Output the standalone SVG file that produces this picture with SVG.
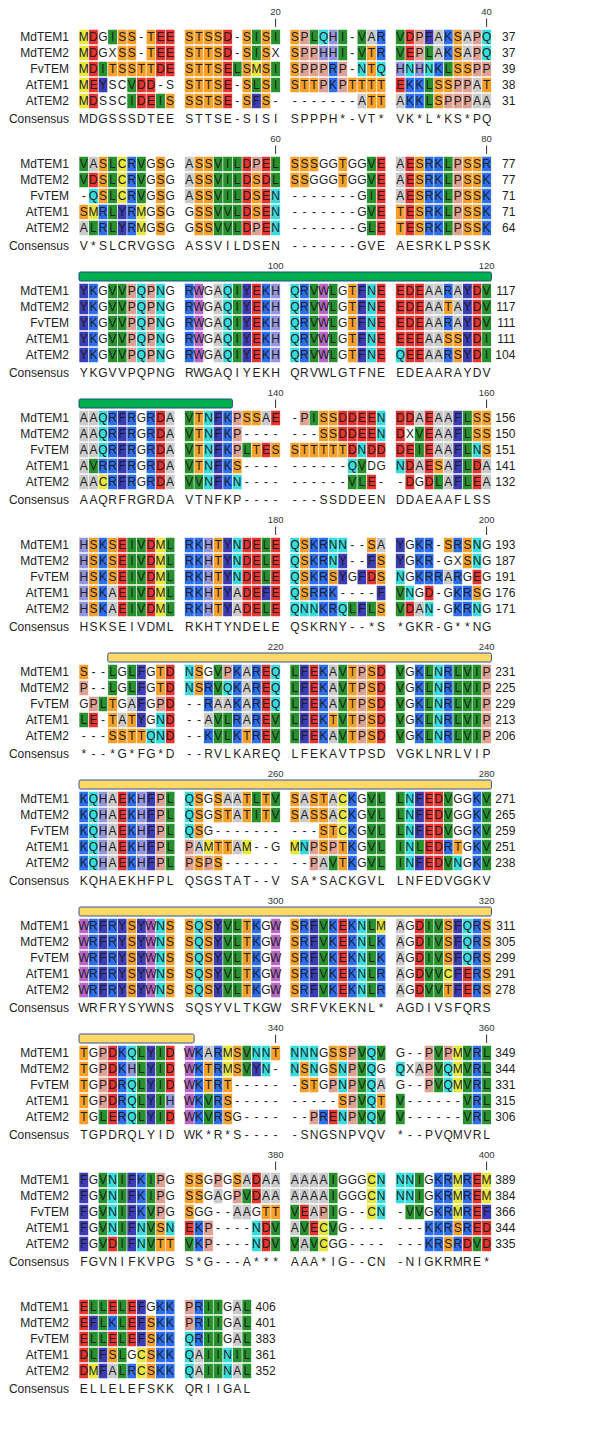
<svg xmlns="http://www.w3.org/2000/svg" xmlns:xlink="http://www.w3.org/1999/xlink" width="602" height="1437" viewBox="0 0 602 1437">
<style>
text{font-family:"Liberation Sans",Arial,sans-serif;fill:#1e1e1e}
.nm{font-size:12px;text-anchor:end}
.sq{font-size:12px;text-anchor:middle}
.nr{font-size:12px;text-anchor:end}
.pl{font-size:9.5px;text-anchor:middle;fill:#333}
.tk{stroke:#333;stroke-width:1;fill:none}
.bg path{fill:none;stroke-width:.9125}
.sep{fill:none;stroke:#fff;stroke-width:.07}
.gbar{fill:#00b050;stroke:#1f4e79;stroke-width:1}
.ybar{fill:#ffd966;stroke:#2f5597;stroke-width:1}
.bg .cr{stroke:#e8332e}.bg .cy{stroke:#e6e63c}.bg .cb{stroke:#2e6ff2}.bg .co{stroke:#f7a029}.bg .cf{stroke:#3c3cb4}.bg .cc{stroke:#36dcdc}.bg .cg{stroke:#27922d}.bg .ca{stroke:#cbcbcb}.bg .cw{stroke:#b866c6}.bg .ch{stroke:#9494dc}.bg .cp{stroke:#e0a092}
</style>
<defs>
<path id="sep" class="sep" d="M0-.5v5M1-.5v5M2-.5v5M3-.5v5M4-.5v5M5-.5v5M6-.5v5M7-.5v5M8-.5v5M9-.5v5M10-.5v5M11-.5v5M12-.5v5M13-.5v5M14-.5v5M15-.5v5M16-.5v5M17-.5v5M18-.5v5M19-.5v5M20-.5v5M21-.5v5M22-.5v5M23-.5v5M24-.5v5M25-.5v5M26-.5v5M27-.5v5M28-.5v5M29-.5v5M30-.5v5M31-.5v5M32-.5v5M33-.5v5M34-.5v5M35-.5v5M36-.5v5M37-.5v5M38-.5v5M39-.5v5M40-.5v5M41-.5v5M42-.5v5M43-.5v5"/>
</defs>
<rect width="602" height="1437" fill="#fff"/>

<g id="block1">
<g class="bg" transform="translate(79 37) scale(9.59 16)">
<path class="cy" d="M0 0h1M0 1h1M0 2h1M18 2h1M0 3h1M0 4h1"/>
<path class="cr" d="M1 0h1M8 0h2M15 0h1M34 0h1M1 1h1M8 1h2M15 1h1M34 1h1M1 2h1M8 2h2M15 2h1M1 3h1M6 3h2M15 3h1M33 3h1M1 4h1M6 4h2M15 4h1"/>
<path class="cg" d="M3 0h1M18 0h1M20 0h1M24 0h1M27 0h1M29 0h1M33 0h1M18 1h1M27 1h1M29 1h1M33 1h1M36 1h1M2 2h1M16 2h1M20 2h1M38 2h1M5 3h1M18 3h1M20 3h1M36 3h1M5 4h1M8 4h1M36 4h1"/>
<path class="co" d="M4 0h2M7 0h1M11 0h4M17 0h1M19 0h1M22 0h1M39 0h1M4 1h2M7 1h1M11 1h4M17 1h1M19 1h1M22 1h1M30 1h1M39 1h1M3 2h5M11 2h4M17 2h1M19 2h1M22 2h1M30 2h1M39 2h2M11 3h4M17 3h1M19 3h1M22 3h3M28 3h4M37 3h2M42 3h1M9 4h1M11 4h4M17 4h1M19 4h1M30 4h2M37 4h1"/>
<path class="cp" d="M23 0h1M35 0h1M41 0h1M23 1h2M35 1h1M41 1h1M23 2h3M27 2h1M41 2h2M25 3h1M27 3h1M39 3h2M38 4h3"/>
<path class="cc" d="M25 0h1M42 0h1M42 1h1M29 2h1M31 2h1M34 2h1M36 2h1"/>
<path class="ch" d="M26 0h1M25 1h2M33 2h1M35 2h1"/>
<path class="ca" d="M30 0h1M37 0h1M40 0h1M37 1h1M40 1h1M41 3h1M29 4h1M33 4h1M41 4h2"/>
<path class="cb" d="M31 0h1M38 0h1M31 1h1M38 1h1M26 2h1M37 2h1M26 3h1M34 3h2M34 4h2"/>
<path class="cf" d="M36 0h1M2 3h1M18 4h1"/>
<use href="#sep"/>
</g>
<text class="pl" x="275.6" y="15">20</text><text class="pl" x="486.6" y="15">40</text>
<path class="tk" d="M275.6 18.5v8.5M486.6 18.5v8.5"/>
<text class="nm" x="69" y="41.3">MdTEM1</text><text class="nm" x="69" y="57.3">MdTEM2</text><text class="nm" x="69" y="73.3">FvTEM</text><text class="nm" x="69" y="89.3">AtTEM1</text><text class="nm" x="69" y="105.3">AtTEM2</text><text class="nm" x="69" y="122.8">Consensus</text>
<text class="sq" x="83.8 93.4 103 112.6 122.2 131.8 141.3 150.9 160.5 170.1 179.7 189.3 198.9 208.5 218.1 227.7 237.2 246.8 256.4 266 275.6 285.2 294.8 304.4 314 323.6 333.1 342.7 352.3 361.9 371.5 381.1 390.7 400.3 409.9 419.5 429 438.6 448.2 457.8 467.4 477 486.6" y="41.3">MDGISS-TEE STSSD-SISI SPLQHI-VAR VDPFAKSAPQ</text>
<text class="sq" x="83.8 93.4 103 112.6 122.2 131.8 141.3 150.9 160.5 170.1 179.7 189.3 198.9 208.5 218.1 227.7 237.2 246.8 256.4 266 275.6 285.2 294.8 304.4 314 323.6 333.1 342.7 352.3 361.9 371.5 381.1 390.7 400.3 409.9 419.5 429 438.6 448.2 457.8 467.4 477 486.6" y="57.3">MDGXSS-TEE STTSD-SISX SPPHHI-VTR VEPLAKSAPQ</text>
<text class="sq" x="83.8 93.4 103 112.6 122.2 131.8 141.3 150.9 160.5 170.1 179.7 189.3 198.9 208.5 218.1 227.7 237.2 246.8 256.4 266 275.6 285.2 294.8 304.4 314 323.6 333.1 342.7 352.3 361.9 371.5 381.1 390.7 400.3 409.9 419.5 429 438.6 448.2 457.8 467.4 477 486.6" y="73.3">MDITSSTTDE STTSELSMSI SPPPRP-NTQ HNHNKLSSPP</text>
<text class="sq" x="83.8 93.4 103 112.6 122.2 131.8 141.3 150.9 160.5 170.1 179.7 189.3 198.9 208.5 218.1 227.7 237.2 246.8 256.4 266 275.6 285.2 294.8 304.4 314 323.6 333.1 342.7 352.3 361.9 371.5 381.1 390.7 400.3 409.9 419.5 429 438.6 448.2 457.8 467.4 477 486.6" y="89.3">MEYSCVDD-S STTSE-SLSI STTPKPTTTT EKKLSSPPAT</text>
<text class="sq" x="83.8 93.4 103 112.6 122.2 131.8 141.3 150.9 160.5 170.1 179.7 189.3 198.9 208.5 218.1 227.7 237.2 246.8 256.4 266 275.6 285.2 294.8 304.4 314 323.6 333.1 342.7 352.3 361.9 371.5 381.1 390.7 400.3 409.9 419.5 429 438.6 448.2 457.8 467.4 477 486.6" y="105.3">MDSSCIDEIS SSTSE-SFS- -------ATT AKKLSPPPAA</text>
<text class="sq" x="83.8 93.4 103 112.6 122.2 131.8 141.3 150.9 160.5 170.1 179.7 189.3 198.9 208.5 218.1 227.7 237.2 246.8 256.4 266 275.6 285.2 294.8 304.4 314 323.6 333.1 342.7 352.3 361.9 371.5 381.1 390.7 400.3 409.9 419.5 429 438.6 448.2 457.8 467.4 477 486.6" y="122.8">MDGSSSDTEE STTSE-SISI SPPPH*-VT* VK*L*KS*PQ</text>
<text class="nr" x="515.4" y="41.3">37</text><text class="nr" x="515.4" y="57.3">37</text><text class="nr" x="515.4" y="73.3">39</text><text class="nr" x="515.4" y="89.3">38</text><text class="nr" x="515.4" y="105.3">31</text>
</g>

<g id="block2" transform="translate(0 127)">
<g class="bg" transform="translate(79 37) scale(9.59 16)">
<path class="cg" d="M0 0h1M3 0h1M6 0h1M14 0h3M20 0h1M30 0h1M38 0h1M0 1h1M3 1h1M6 1h1M14 1h3M20 1h1M30 1h1M38 1h1M3 2h1M6 2h1M14 2h3M30 2h1M38 2h1M3 3h1M14 3h3M30 3h1M38 3h1M1 4h1M3 4h1M14 4h3M30 4h1M38 4h1"/>
<path class="ca" d="M1 0h1M11 0h1M33 0h1M11 1h1M33 1h1M11 2h1M33 2h1M0 4h1"/>
<path class="co" d="M2 0h1M8 0h1M12 0h2M22 0h3M27 0h1M35 0h1M40 0h2M2 1h1M8 1h1M12 1h2M18 1h1M22 1h2M27 1h1M35 1h1M40 1h2M2 2h1M8 2h1M12 2h2M18 2h1M35 2h1M40 2h2M0 3h1M8 3h1M12 3h2M18 3h1M33 3h1M35 3h1M40 3h2M8 4h1M12 4h2M33 4h1M35 4h1M40 4h2"/>
<path class="cy" d="M4 0h1M4 1h1M4 2h1M1 3h1M6 3h1M6 4h1"/>
<path class="cb" d="M5 0h1M36 0h2M42 0h1M5 1h1M36 1h2M42 1h1M5 2h1M36 2h2M42 2h1M2 3h1M5 3h1M36 3h2M42 3h1M2 4h1M5 4h1M36 4h2M42 4h1"/>
<path class="cr" d="M17 0h1M19 0h1M31 0h1M34 0h1M1 1h1M17 1h1M19 1h1M31 1h1M34 1h1M17 2h1M19 2h1M31 2h1M34 2h1M17 3h1M19 3h1M31 3h1M34 3h1M17 4h1M19 4h1M31 4h1M34 4h1"/>
<path class="cp" d="M18 0h1M39 0h1M39 1h1M39 2h1M39 3h1M18 4h1M39 4h1"/>
<path class="cc" d="M1 2h1M20 2h1M20 3h1M20 4h1"/>
<path class="cf" d="M4 3h1M4 4h1"/>
<use href="#sep"/>
</g>
<text class="pl" x="275.6" y="15">60</text><text class="pl" x="486.6" y="15">80</text>
<path class="tk" d="M275.6 18.5v8.5M486.6 18.5v8.5"/>
<text class="nm" x="69" y="41.3">MdTEM1</text><text class="nm" x="69" y="57.3">MdTEM2</text><text class="nm" x="69" y="73.3">FvTEM</text><text class="nm" x="69" y="89.3">AtTEM1</text><text class="nm" x="69" y="105.3">AtTEM2</text><text class="nm" x="69" y="122.8">Consensus</text>
<text class="sq" x="83.8 93.4 103 112.6 122.2 131.8 141.3 150.9 160.5 170.1 179.7 189.3 198.9 208.5 218.1 227.7 237.2 246.8 256.4 266 275.6 285.2 294.8 304.4 314 323.6 333.1 342.7 352.3 361.9 371.5 381.1 390.7 400.3 409.9 419.5 429 438.6 448.2 457.8 467.4 477 486.6" y="41.3">VASLCRVGSG ASSVILDPEL SSSGGTGGVE AESRKLPSSR</text>
<text class="sq" x="83.8 93.4 103 112.6 122.2 131.8 141.3 150.9 160.5 170.1 179.7 189.3 198.9 208.5 218.1 227.7 237.2 246.8 256.4 266 275.6 285.2 294.8 304.4 314 323.6 333.1 342.7 352.3 361.9 371.5 381.1 390.7 400.3 409.9 419.5 429 438.6 448.2 457.8 467.4 477 486.6" y="57.3">VDSLCRVGSG ASSVILDSDL SSGGGTGGVE AESRKLPSSK</text>
<text class="sq" x="83.8 93.4 103 112.6 122.2 131.8 141.3 150.9 160.5 170.1 179.7 189.3 198.9 208.5 218.1 227.7 237.2 246.8 256.4 266 275.6 285.2 294.8 304.4 314 323.6 333.1 342.7 352.3 361.9 371.5 381.1 390.7 400.3 409.9 419.5 429 438.6 448.2 457.8 467.4 477 486.6" y="73.3">-QSLCRVGSG ASSVILDSEN -------GIE AESRKLPSSK</text>
<text class="sq" x="83.8 93.4 103 112.6 122.2 131.8 141.3 150.9 160.5 170.1 179.7 189.3 198.9 208.5 218.1 227.7 237.2 246.8 256.4 266 275.6 285.2 294.8 304.4 314 323.6 333.1 342.7 352.3 361.9 371.5 381.1 390.7 400.3 409.9 419.5 429 438.6 448.2 457.8 467.4 477 486.6" y="89.3">SMRLYRMGSG GSSVVLDSEN -------GVE TESRKLPSSK</text>
<text class="sq" x="83.8 93.4 103 112.6 122.2 131.8 141.3 150.9 160.5 170.1 179.7 189.3 198.9 208.5 218.1 227.7 237.2 246.8 256.4 266 275.6 285.2 294.8 304.4 314 323.6 333.1 342.7 352.3 361.9 371.5 381.1 390.7 400.3 409.9 419.5 429 438.6 448.2 457.8 467.4 477 486.6" y="105.3">ALRLYRMGSG GSSVVLDPEN -------GLE TESRKLPSSK</text>
<text class="sq" x="83.8 93.4 103 112.6 122.2 131.8 141.3 150.9 160.5 170.1 179.7 189.3 198.9 208.5 218.1 227.7 237.2 246.8 256.4 266 275.6 285.2 294.8 304.4 314 323.6 333.1 342.7 352.3 361.9 371.5 381.1 390.7 400.3 409.9 419.5 429 438.6 448.2 457.8 467.4 477 486.6" y="122.8">V*SLCRVGSG ASSVILDSEN -------GVE AESRKLPSSK</text>
<text class="nr" x="515.4" y="41.3">77</text><text class="nr" x="515.4" y="57.3">77</text><text class="nr" x="515.4" y="73.3">71</text><text class="nr" x="515.4" y="89.3">71</text><text class="nr" x="515.4" y="105.3">64</text>
</g>

<g id="block3" transform="translate(0 254)">
<g class="bg" transform="translate(79 37) scale(9.59 16)">
<path class="cf" d="M0 0h1M17 0h1M29 0h1M40 0h1M0 1h1M17 1h1M29 1h1M40 1h1M0 2h1M17 2h1M29 2h1M40 2h1M0 3h1M17 3h1M29 3h1M40 3h1M0 4h1M17 4h1M29 4h1M40 4h1"/>
<path class="cb" d="M1 0h1M11 0h1M19 0h1M23 0h1M38 0h1M1 1h1M11 1h1M19 1h1M23 1h1M1 2h1M11 2h1M19 2h1M23 2h1M38 2h1M1 3h1M11 3h1M19 3h1M23 3h1M1 4h1M11 4h1M19 4h1M23 4h1M38 4h1"/>
<path class="cg" d="M3 0h2M16 0h1M24 0h1M26 0h1M42 0h1M3 1h2M16 1h1M24 1h1M26 1h1M42 1h1M3 2h2M16 2h1M24 2h1M26 2h1M42 2h1M3 3h2M16 3h1M24 3h1M26 3h1M42 3h1M3 4h2M16 4h1M24 4h1M26 4h1M42 4h1"/>
<path class="cp" d="M5 0h1M7 0h1M5 1h1M7 1h1M5 2h1M7 2h1M5 3h1M7 3h1M5 4h1M7 4h1"/>
<path class="cc" d="M6 0h1M8 0h1M15 0h1M22 0h1M30 0h1M6 1h1M8 1h1M15 1h1M22 1h1M30 1h1M6 2h1M8 2h1M15 2h1M22 2h1M30 2h1M6 3h1M8 3h1M15 3h1M22 3h1M30 3h1M6 4h1M8 4h1M15 4h1M22 4h1M30 4h1M33 4h1"/>
<path class="cw" d="M12 0h1M25 0h1M12 1h1M25 1h1M12 2h1M25 2h1M12 3h1M25 3h1M12 4h1M25 4h1"/>
<path class="ca" d="M14 0h1M36 0h2M39 0h1M14 1h1M36 1h2M39 1h1M14 2h1M36 2h2M39 2h1M14 3h1M36 3h2M14 4h1M36 4h2"/>
<path class="cr" d="M18 0h1M31 0h1M33 0h3M41 0h1M18 1h1M31 1h1M33 1h3M41 1h1M18 2h1M31 2h1M33 2h3M41 2h1M18 3h1M31 3h1M33 3h3M41 3h1M18 4h1M31 4h1M34 4h2M41 4h1"/>
<path class="ch" d="M20 0h1M20 1h1M20 2h1M20 3h1M20 4h1"/>
<path class="co" d="M28 0h1M28 1h1M38 1h1M28 2h1M28 3h1M38 3h2M28 4h1M39 4h1"/>
<use href="#sep"/>
</g>
<text class="pl" x="275.6" y="15">100</text><text class="pl" x="486.6" y="15">120</text>
<rect class="gbar" x="79" y="18" width="412.4" height="9" rx="1.5"/>
<text class="nm" x="69" y="41.3">MdTEM1</text><text class="nm" x="69" y="57.3">MdTEM2</text><text class="nm" x="69" y="73.3">FvTEM</text><text class="nm" x="69" y="89.3">AtTEM1</text><text class="nm" x="69" y="105.3">AtTEM2</text><text class="nm" x="69" y="122.8">Consensus</text>
<text class="sq" x="83.8 93.4 103 112.6 122.2 131.8 141.3 150.9 160.5 170.1 179.7 189.3 198.9 208.5 218.1 227.7 237.2 246.8 256.4 266 275.6 285.2 294.8 304.4 314 323.6 333.1 342.7 352.3 361.9 371.5 381.1 390.7 400.3 409.9 419.5 429 438.6 448.2 457.8 467.4 477 486.6" y="41.3">YKGVVPQPNG RWGAQIYEKH QRVWLGTFNE EDEAARAYDV</text>
<text class="sq" x="83.8 93.4 103 112.6 122.2 131.8 141.3 150.9 160.5 170.1 179.7 189.3 198.9 208.5 218.1 227.7 237.2 246.8 256.4 266 275.6 285.2 294.8 304.4 314 323.6 333.1 342.7 352.3 361.9 371.5 381.1 390.7 400.3 409.9 419.5 429 438.6 448.2 457.8 467.4 477 486.6" y="57.3">YKGVVPQPNG RWGAQIYEKH QRVWLGTFNE EDEAATAYDV</text>
<text class="sq" x="83.8 93.4 103 112.6 122.2 131.8 141.3 150.9 160.5 170.1 179.7 189.3 198.9 208.5 218.1 227.7 237.2 246.8 256.4 266 275.6 285.2 294.8 304.4 314 323.6 333.1 342.7 352.3 361.9 371.5 381.1 390.7 400.3 409.9 419.5 429 438.6 448.2 457.8 467.4 477 486.6" y="73.3">YKGVVPQPNG RWGAQIYEKH QRVWLGTFNE EDEAARAYDV</text>
<text class="sq" x="83.8 93.4 103 112.6 122.2 131.8 141.3 150.9 160.5 170.1 179.7 189.3 198.9 208.5 218.1 227.7 237.2 246.8 256.4 266 275.6 285.2 294.8 304.4 314 323.6 333.1 342.7 352.3 361.9 371.5 381.1 390.7 400.3 409.9 419.5 429 438.6 448.2 457.8 467.4 477 486.6" y="89.3">YKGVVPQPNG RWGAQIYEKH QRVWLGTFNE EEEAASSYDI</text>
<text class="sq" x="83.8 93.4 103 112.6 122.2 131.8 141.3 150.9 160.5 170.1 179.7 189.3 198.9 208.5 218.1 227.7 237.2 246.8 256.4 266 275.6 285.2 294.8 304.4 314 323.6 333.1 342.7 352.3 361.9 371.5 381.1 390.7 400.3 409.9 419.5 429 438.6 448.2 457.8 467.4 477 486.6" y="105.3">YKGVVPQPNG RWGAQIYEKH QRVWLGTFNE QEEAARSYDI</text>
<text class="sq" x="83.8 93.4 103 112.6 122.2 131.8 141.3 150.9 160.5 170.1 179.7 189.3 198.9 208.5 218.1 227.7 237.2 246.8 256.4 266 275.6 285.2 294.8 304.4 314 323.6 333.1 342.7 352.3 361.9 371.5 381.1 390.7 400.3 409.9 419.5 429 438.6 448.2 457.8 467.4 477 486.6" y="122.8">YKGVVPQPNG RWGAQIYEKH QRVWLGTFNE EDEAARAYDV</text>
<text class="nr" x="515.4" y="41.3">117</text><text class="nr" x="515.4" y="57.3">117</text><text class="nr" x="515.4" y="73.3">111</text><text class="nr" x="515.4" y="89.3">111</text><text class="nr" x="515.4" y="105.3">104</text>
</g>

<g id="block4" transform="translate(0 381)">
<g class="bg" transform="translate(79 37) scale(9.59 16)">
<path class="ca" d="M0 0h2M9 0h1M19 0h1M35 0h1M37 0h2M0 1h2M9 1h1M37 1h2M0 2h2M9 2h1M37 2h2M0 3h1M9 3h1M35 3h1M38 3h1M42 3h1M0 4h2M9 4h1M38 4h1M42 4h1"/>
<path class="cc" d="M2 0h1M13 0h1M31 0h1M2 1h1M13 1h1M31 1h1M2 2h1M13 2h1M29 2h1M41 2h1M13 3h1M28 3h1M33 3h1M13 4h1M16 4h1"/>
<path class="cb" d="M3 0h1M5 0h1M7 0h1M15 0h1M3 1h1M5 1h1M7 1h1M15 1h1M3 2h1M5 2h1M7 2h1M15 2h1M2 3h2M5 3h1M7 3h1M15 3h1M3 4h1M5 4h1M7 4h1M15 4h1"/>
<path class="cf" d="M4 0h1M14 0h1M39 0h1M4 1h1M14 1h1M39 1h1M4 2h1M14 2h1M39 2h1M4 3h1M14 3h1M39 3h1M4 4h1M14 4h1M39 4h1"/>
<path class="cr" d="M8 0h1M20 0h1M27 0h4M33 0h2M36 0h1M8 1h1M27 1h4M33 1h1M36 1h1M8 2h1M19 2h1M28 2h1M30 2h2M33 2h2M36 2h1M8 3h1M34 3h1M36 3h1M41 3h1M8 4h1M30 4h1M34 4h1M36 4h1M41 4h1"/>
<path class="cg" d="M11 0h1M24 0h1M40 0h1M11 1h1M35 1h1M40 1h1M11 2h1M17 2h1M35 2h1M40 2h1M1 3h1M11 3h1M29 3h1M40 3h1M11 4h2M28 4h2M37 4h1M40 4h1"/>
<path class="co" d="M12 0h1M17 0h2M25 0h2M41 0h2M12 1h1M25 1h2M41 1h2M12 2h1M18 2h1M20 2h1M22 2h6M42 2h1M12 3h1M16 3h1M37 3h1"/>
<path class="cp" d="M16 0h1M23 0h1M16 1h1M16 2h1"/>
<path class="cy" d="M2 4h1"/>
<use href="#sep"/>
</g>
<text class="pl" x="275.6" y="15">140</text><text class="pl" x="486.6" y="15">160</text>
<path class="tk" d="M275.6 18.5v8.5M486.6 18.5v8.5"/>
<rect class="gbar" x="79" y="18" width="153.4" height="9" rx="1.5"/>
<text class="nm" x="69" y="41.3">MdTEM1</text><text class="nm" x="69" y="57.3">MdTEM2</text><text class="nm" x="69" y="73.3">FvTEM</text><text class="nm" x="69" y="89.3">AtTEM1</text><text class="nm" x="69" y="105.3">AtTEM2</text><text class="nm" x="69" y="122.8">Consensus</text>
<text class="sq" x="83.8 93.4 103 112.6 122.2 131.8 141.3 150.9 160.5 170.1 179.7 189.3 198.9 208.5 218.1 227.7 237.2 246.8 256.4 266 275.6 285.2 294.8 304.4 314 323.6 333.1 342.7 352.3 361.9 371.5 381.1 390.7 400.3 409.9 419.5 429 438.6 448.2 457.8 467.4 477 486.6" y="41.3">AAQRFRGRDA VTNFKPSSAE -PISSDDEEN DDAEAAFLSS</text>
<text class="sq" x="83.8 93.4 103 112.6 122.2 131.8 141.3 150.9 160.5 170.1 179.7 189.3 198.9 208.5 218.1 227.7 237.2 246.8 256.4 266 275.6 285.2 294.8 304.4 314 323.6 333.1 342.7 352.3 361.9 371.5 381.1 390.7 400.3 409.9 419.5 429 438.6 448.2 457.8 467.4 477 486.6" y="57.3">AAQRFRGRDA VTNFKP---- ---SSDDEEN DXVEAAFLSS</text>
<text class="sq" x="83.8 93.4 103 112.6 122.2 131.8 141.3 150.9 160.5 170.1 179.7 189.3 198.9 208.5 218.1 227.7 237.2 246.8 256.4 266 275.6 285.2 294.8 304.4 314 323.6 333.1 342.7 352.3 361.9 371.5 381.1 390.7 400.3 409.9 419.5 429 438.6 448.2 457.8 467.4 477 486.6" y="73.3">AAQRFRGRDA VTNFKPLTES STTTTTDNDD DEIEAAFLNS</text>
<text class="sq" x="83.8 93.4 103 112.6 122.2 131.8 141.3 150.9 160.5 170.1 179.7 189.3 198.9 208.5 218.1 227.7 237.2 246.8 256.4 266 275.6 285.2 294.8 304.4 314 323.6 333.1 342.7 352.3 361.9 371.5 381.1 390.7 400.3 409.9 419.5 429 438.6 448.2 457.8 467.4 477 486.6" y="89.3">AVRRFRGRDA VTNFKS---- ------QVDG NDAESAFLDA</text>
<text class="sq" x="83.8 93.4 103 112.6 122.2 131.8 141.3 150.9 160.5 170.1 179.7 189.3 198.9 208.5 218.1 227.7 237.2 246.8 256.4 266 275.6 285.2 294.8 304.4 314 323.6 333.1 342.7 352.3 361.9 371.5 381.1 390.7 400.3 409.9 419.5 429 438.6 448.2 457.8 467.4 477 486.6" y="105.3">AACRFRGRDA VVNFKN---- ------VLE- -DGDLAFLEA</text>
<text class="sq" x="83.8 93.4 103 112.6 122.2 131.8 141.3 150.9 160.5 170.1 179.7 189.3 198.9 208.5 218.1 227.7 237.2 246.8 256.4 266 275.6 285.2 294.8 304.4 314 323.6 333.1 342.7 352.3 361.9 371.5 381.1 390.7 400.3 409.9 419.5 429 438.6 448.2 457.8 467.4 477 486.6" y="122.8">AAQRFRGRDA VTNFKP---- ---SSDDEEN DDAEAAFLSS</text>
<text class="nr" x="515.4" y="41.3">156</text><text class="nr" x="515.4" y="57.3">150</text><text class="nr" x="515.4" y="73.3">151</text><text class="nr" x="515.4" y="89.3">141</text><text class="nr" x="515.4" y="105.3">132</text>
</g>

<g id="block5" transform="translate(0 508)">
<g class="bg" transform="translate(79 37) scale(9.59 16)">
<path class="ch" d="M0 0h1M13 0h1M0 1h1M13 1h1M0 2h1M13 2h1M0 3h1M13 3h1M0 4h1M13 4h1"/>
<path class="co" d="M1 0h1M3 0h1M14 0h1M23 0h1M30 0h1M38 0h1M40 0h1M1 1h1M3 1h1M14 1h1M23 1h1M31 1h1M40 1h1M1 2h1M3 2h1M14 2h1M23 2h1M26 2h1M31 2h1M1 3h1M14 3h1M23 3h1M41 3h1M1 4h1M14 4h1M31 4h1"/>
<path class="cb" d="M2 0h1M11 0h2M24 0h2M35 0h2M39 0h1M2 1h1M11 1h2M24 1h2M35 1h2M2 2h1M11 2h2M24 2h2M35 2h3M39 2h1M2 3h1M11 3h2M24 3h3M39 3h2M2 4h1M11 4h2M25 4h2M39 4h2"/>
<path class="cr" d="M4 0h1M7 0h1M17 0h2M20 0h1M4 1h1M7 1h1M17 1h2M20 1h1M4 2h1M7 2h1M17 2h2M20 2h1M30 2h1M41 2h1M4 3h1M7 3h1M17 3h2M20 3h1M36 3h1M4 4h1M7 4h1M17 4h2M20 4h1M34 4h1"/>
<path class="cg" d="M5 0h2M9 0h1M19 0h1M5 1h2M9 1h1M19 1h1M5 2h2M9 2h1M19 2h1M5 3h2M9 3h1M33 3h1M5 4h2M9 4h1M19 4h1M28 4h1M30 4h1M33 4h1"/>
<path class="cy" d="M8 0h1M8 1h1M8 2h1M8 3h1M8 4h1"/>
<path class="cf" d="M15 0h1M33 0h1M15 1h1M27 1h1M30 1h1M33 1h1M15 2h1M27 2h1M29 2h1M15 3h1M19 3h1M31 3h1M15 4h1M29 4h1"/>
<path class="cc" d="M16 0h1M22 0h1M26 0h2M41 0h1M16 1h1M22 1h1M26 1h1M41 1h1M16 2h1M22 2h1M33 2h1M22 3h1M34 3h1M22 4h3M27 4h1M36 4h1M41 4h1"/>
<path class="ca" d="M31 0h1M38 2h1M3 3h1M16 3h1M3 4h1M16 4h1M35 4h1"/>
<use href="#sep"/>
</g>
<text class="pl" x="275.6" y="15">180</text><text class="pl" x="486.6" y="15">200</text>
<path class="tk" d="M275.6 18.5v8.5M486.6 18.5v8.5"/>
<text class="nm" x="69" y="41.3">MdTEM1</text><text class="nm" x="69" y="57.3">MdTEM2</text><text class="nm" x="69" y="73.3">FvTEM</text><text class="nm" x="69" y="89.3">AtTEM1</text><text class="nm" x="69" y="105.3">AtTEM2</text><text class="nm" x="69" y="122.8">Consensus</text>
<text class="sq" x="83.8 93.4 103 112.6 122.2 131.8 141.3 150.9 160.5 170.1 179.7 189.3 198.9 208.5 218.1 227.7 237.2 246.8 256.4 266 275.6 285.2 294.8 304.4 314 323.6 333.1 342.7 352.3 361.9 371.5 381.1 390.7 400.3 409.9 419.5 429 438.6 448.2 457.8 467.4 477 486.6" y="41.3">HSKSEIVDML RKHTYNDELE QSKRNN--SA YGKR-SRSNG</text>
<text class="sq" x="83.8 93.4 103 112.6 122.2 131.8 141.3 150.9 160.5 170.1 179.7 189.3 198.9 208.5 218.1 227.7 237.2 246.8 256.4 266 275.6 285.2 294.8 304.4 314 323.6 333.1 342.7 352.3 361.9 371.5 381.1 390.7 400.3 409.9 419.5 429 438.6 448.2 457.8 467.4 477 486.6" y="57.3">HSKSEIVDML RKHTYNDELE QSKRNY--FS YGKR-GXSNG</text>
<text class="sq" x="83.8 93.4 103 112.6 122.2 131.8 141.3 150.9 160.5 170.1 179.7 189.3 198.9 208.5 218.1 227.7 237.2 246.8 256.4 266 275.6 285.2 294.8 304.4 314 323.6 333.1 342.7 352.3 361.9 371.5 381.1 390.7 400.3 409.9 419.5 429 438.6 448.2 457.8 467.4 477 486.6" y="73.3">HSKSEIVDML RKHTYNDELE QSKRSYGFDS NGKRRARGEG</text>
<text class="sq" x="83.8 93.4 103 112.6 122.2 131.8 141.3 150.9 160.5 170.1 179.7 189.3 198.9 208.5 218.1 227.7 237.2 246.8 256.4 266 275.6 285.2 294.8 304.4 314 323.6 333.1 342.7 352.3 361.9 371.5 381.1 390.7 400.3 409.9 419.5 429 438.6 448.2 457.8 467.4 477 486.6" y="89.3">HSKAEIVDML RKHTYADEFE QSRRK----F VNGD-GKRSG</text>
<text class="sq" x="83.8 93.4 103 112.6 122.2 131.8 141.3 150.9 160.5 170.1 179.7 189.3 198.9 208.5 218.1 227.7 237.2 246.8 256.4 266 275.6 285.2 294.8 304.4 314 323.6 333.1 342.7 352.3 361.9 371.5 381.1 390.7 400.3 409.9 419.5 429 438.6 448.2 457.8 467.4 477 486.6" y="105.3">HSKAEIVDML RKHTYADELE QNNKRQLFLS VDAN-GKRNG</text>
<text class="sq" x="83.8 93.4 103 112.6 122.2 131.8 141.3 150.9 160.5 170.1 179.7 189.3 198.9 208.5 218.1 227.7 237.2 246.8 256.4 266 275.6 285.2 294.8 304.4 314 323.6 333.1 342.7 352.3 361.9 371.5 381.1 390.7 400.3 409.9 419.5 429 438.6 448.2 457.8 467.4 477 486.6" y="122.8">HSKSEIVDML RKHTYNDELE QSKRNY--*S *GKR-G**NG</text>
<text class="nr" x="515.4" y="41.3">193</text><text class="nr" x="515.4" y="57.3">187</text><text class="nr" x="515.4" y="73.3">191</text><text class="nr" x="515.4" y="89.3">176</text><text class="nr" x="515.4" y="105.3">171</text>
</g>

<g id="block6" transform="translate(0 635)">
<g class="bg" transform="translate(79 37) scale(9.59 16)">
<path class="co" d="M0 0h1M8 0h1M12 0h1M28 0h1M30 0h1M8 1h1M12 1h1M28 1h1M30 1h1M3 2h1M28 2h1M30 2h1M3 3h1M5 3h1M26 3h1M28 3h1M30 3h1M3 4h4M17 4h1M28 4h1M30 4h1"/>
<path class="cg" d="M3 0h1M5 0h1M14 0h1M22 0h1M27 0h1M33 0h1M36 0h1M39 0h3M3 1h1M5 1h1M14 1h1M22 1h1M27 1h1M33 1h1M36 1h1M39 1h3M2 2h1M22 2h1M27 2h1M33 2h1M36 2h1M39 2h3M0 3h1M14 3h2M20 3h1M22 3h1M27 3h1M33 3h1M36 3h1M39 3h3M14 4h2M20 4h1M22 4h1M27 4h1M33 4h1M36 4h1M39 4h3"/>
<path class="cf" d="M6 0h1M23 0h1M6 1h1M23 1h1M6 2h1M23 2h1M6 3h1M23 3h1M23 4h1"/>
<path class="cr" d="M9 0h1M19 0h1M24 0h1M31 0h1M9 1h1M19 1h1M24 1h1M31 1h1M9 2h1M19 2h1M24 2h1M31 2h1M1 3h1M9 3h1M19 3h1M24 3h1M31 3h1M9 4h1M19 4h1M24 4h1M31 4h1"/>
<path class="cc" d="M11 0h1M20 0h1M37 0h1M11 1h1M15 1h1M20 1h1M37 1h1M20 2h1M37 2h1M8 3h1M37 3h1M7 4h2M37 4h1"/>
<path class="cp" d="M15 0h1M29 0h1M42 0h1M0 1h1M29 1h1M42 1h1M1 2h1M8 2h1M29 2h1M42 2h1M29 3h1M42 3h1M29 4h1M42 4h1"/>
<path class="cb" d="M16 0h1M18 0h1M25 0h1M35 0h1M38 0h1M13 1h1M16 1h1M18 1h1M25 1h1M35 1h1M38 1h1M13 2h1M16 2h1M18 2h1M25 2h1M35 2h1M38 2h1M16 3h1M18 3h1M25 3h1M35 3h1M38 3h1M13 4h1M16 4h1M18 4h1M25 4h1M35 4h1M38 4h1"/>
<path class="ca" d="M17 0h1M26 0h1M17 1h1M26 1h1M5 2h1M14 2h2M17 2h1M26 2h1M4 3h1M13 3h1M17 3h1M26 4h1"/>
<use href="#sep"/>
</g>
<text class="pl" x="275.6" y="15">220</text><text class="pl" x="486.6" y="15">240</text>
<rect class="ybar" x="107.8" y="18" width="383.6" height="9" rx="1.5"/>
<text class="nm" x="69" y="41.3">MdTEM1</text><text class="nm" x="69" y="57.3">MdTEM2</text><text class="nm" x="69" y="73.3">FvTEM</text><text class="nm" x="69" y="89.3">AtTEM1</text><text class="nm" x="69" y="105.3">AtTEM2</text><text class="nm" x="69" y="122.8">Consensus</text>
<text class="sq" x="83.8 93.4 103 112.6 122.2 131.8 141.3 150.9 160.5 170.1 179.7 189.3 198.9 208.5 218.1 227.7 237.2 246.8 256.4 266 275.6 285.2 294.8 304.4 314 323.6 333.1 342.7 352.3 361.9 371.5 381.1 390.7 400.3 409.9 419.5 429 438.6 448.2 457.8 467.4 477 486.6" y="41.3">S--LGLFGTD NSGVPKAREQ LFEKAVTPSD VGKLNRLVIP</text>
<text class="sq" x="83.8 93.4 103 112.6 122.2 131.8 141.3 150.9 160.5 170.1 179.7 189.3 198.9 208.5 218.1 227.7 237.2 246.8 256.4 266 275.6 285.2 294.8 304.4 314 323.6 333.1 342.7 352.3 361.9 371.5 381.1 390.7 400.3 409.9 419.5 429 438.6 448.2 457.8 467.4 477 486.6" y="57.3">P--LGLFGTD NSRVQKAREQ LFEKAVTPSD VGKLNRLVIP</text>
<text class="sq" x="83.8 93.4 103 112.6 122.2 131.8 141.3 150.9 160.5 170.1 179.7 189.3 198.9 208.5 218.1 227.7 237.2 246.8 256.4 266 275.6 285.2 294.8 304.4 314 323.6 333.1 342.7 352.3 361.9 371.5 381.1 390.7 400.3 409.9 419.5 429 438.6 448.2 457.8 467.4 477 486.6" y="73.3">GPLTGAFGPD --RAAKAREQ LFEKAVTPSD VGKLNRLVIP</text>
<text class="sq" x="83.8 93.4 103 112.6 122.2 131.8 141.3 150.9 160.5 170.1 179.7 189.3 198.9 208.5 218.1 227.7 237.2 246.8 256.4 266 275.6 285.2 294.8 304.4 314 323.6 333.1 342.7 352.3 361.9 371.5 381.1 390.7 400.3 409.9 419.5 429 438.6 448.2 457.8 467.4 477 486.6" y="89.3">LE-TATYGND --AVLRAREV LFEKTVTPSD VGKLNRLVIP</text>
<text class="sq" x="83.8 93.4 103 112.6 122.2 131.8 141.3 150.9 160.5 170.1 179.7 189.3 198.9 208.5 218.1 227.7 237.2 246.8 256.4 266 275.6 285.2 294.8 304.4 314 323.6 333.1 342.7 352.3 361.9 371.5 381.1 390.7 400.3 409.9 419.5 429 438.6 448.2 457.8 467.4 477 486.6" y="105.3">---SSTTQND --KVLKTREV LFEKAVTPSD VGKLNRLVIP</text>
<text class="sq" x="83.8 93.4 103 112.6 122.2 131.8 141.3 150.9 160.5 170.1 179.7 189.3 198.9 208.5 218.1 227.7 237.2 246.8 256.4 266 275.6 285.2 294.8 304.4 314 323.6 333.1 342.7 352.3 361.9 371.5 381.1 390.7 400.3 409.9 419.5 429 438.6 448.2 457.8 467.4 477 486.6" y="122.8">*--*G*FG*D --RVLKAREQ LFEKAVTPSD VGKLNRLVIP</text>
<text class="nr" x="515.4" y="41.3">231</text><text class="nr" x="515.4" y="57.3">225</text><text class="nr" x="515.4" y="73.3">229</text><text class="nr" x="515.4" y="89.3">213</text><text class="nr" x="515.4" y="105.3">206</text>
</g>

<g id="block7" transform="translate(0 762)">
<g class="bg" transform="translate(79 37) scale(9.59 16)">
<path class="cb" d="M0 0h1M5 0h1M28 0h1M41 0h1M0 1h1M5 1h1M28 1h1M41 1h1M0 2h1M5 2h1M28 2h1M41 2h1M0 3h1M5 3h1M28 3h1M38 3h1M41 3h1M0 4h1M5 4h1M28 4h1M41 4h1"/>
<path class="cc" d="M1 0h1M11 0h1M34 0h1M1 1h1M11 1h1M34 1h1M1 2h1M11 2h1M34 2h1M1 3h1M23 3h1M34 3h1M1 4h1M34 4h1M39 4h1"/>
<path class="ch" d="M2 0h1M6 0h1M2 1h1M6 1h1M2 2h1M6 2h1M2 3h1M6 3h1M2 4h1M6 4h1"/>
<path class="ca" d="M3 0h1M15 0h2M23 0h1M26 0h1M3 1h1M16 1h1M23 1h1M26 1h1M3 2h1M3 3h1M12 3h1M16 3h1M3 4h1M25 4h1"/>
<path class="cr" d="M4 0h1M36 0h2M4 1h1M36 1h2M4 2h1M36 2h2M4 3h1M36 3h2M4 4h1M36 4h2"/>
<path class="cf" d="M7 0h1M35 0h1M7 1h1M35 1h1M7 2h1M35 2h1M7 3h1M7 4h1M35 4h1"/>
<path class="cp" d="M8 0h1M8 1h1M8 2h1M8 3h1M11 3h1M24 3h1M26 3h1M8 4h1M11 4h1M13 4h1M24 4h1"/>
<path class="cg" d="M9 0h1M18 0h1M20 0h1M30 0h2M33 0h1M38 0h1M42 0h1M9 1h1M18 1h1M20 1h1M30 1h2M33 1h1M38 1h1M42 1h1M9 2h1M30 2h2M33 2h1M38 2h1M42 2h1M9 3h1M30 3h2M33 3h1M35 3h1M42 3h1M9 4h1M26 4h1M30 4h2M33 4h1M38 4h1M42 4h1"/>
<path class="co" d="M12 0h1M14 0h1M17 0h1M19 0h1M22 0h1M24 0h2M12 1h1M14 1h2M17 1h1M19 1h1M22 1h1M24 1h2M12 2h1M25 2h2M14 3h2M25 3h1M27 3h1M39 3h1M12 4h1M14 4h1M27 4h1"/>
<path class="cy" d="M27 0h1M27 1h1M27 2h1M13 3h1M17 3h1M22 3h1"/>
<use href="#sep"/>
</g>
<text class="pl" x="275.6" y="15">260</text><text class="pl" x="486.6" y="15">280</text>
<rect class="ybar" x="79" y="18" width="412.4" height="9" rx="1.5"/>
<text class="nm" x="69" y="41.3">MdTEM1</text><text class="nm" x="69" y="57.3">MdTEM2</text><text class="nm" x="69" y="73.3">FvTEM</text><text class="nm" x="69" y="89.3">AtTEM1</text><text class="nm" x="69" y="105.3">AtTEM2</text><text class="nm" x="69" y="122.8">Consensus</text>
<text class="sq" x="83.8 93.4 103 112.6 122.2 131.8 141.3 150.9 160.5 170.1 179.7 189.3 198.9 208.5 218.1 227.7 237.2 246.8 256.4 266 275.6 285.2 294.8 304.4 314 323.6 333.1 342.7 352.3 361.9 371.5 381.1 390.7 400.3 409.9 419.5 429 438.6 448.2 457.8 467.4 477 486.6" y="41.3">KQHAEKHFPL QSGSAATLTV SASTACKGVL LNFEDVGGKV</text>
<text class="sq" x="83.8 93.4 103 112.6 122.2 131.8 141.3 150.9 160.5 170.1 179.7 189.3 198.9 208.5 218.1 227.7 237.2 246.8 256.4 266 275.6 285.2 294.8 304.4 314 323.6 333.1 342.7 352.3 361.9 371.5 381.1 390.7 400.3 409.9 419.5 429 438.6 448.2 457.8 467.4 477 486.6" y="57.3">KQHAEKHFPL QSGSTATITV SASSACKGVL LNFEDVGGKV</text>
<text class="sq" x="83.8 93.4 103 112.6 122.2 131.8 141.3 150.9 160.5 170.1 179.7 189.3 198.9 208.5 218.1 227.7 237.2 246.8 256.4 266 275.6 285.2 294.8 304.4 314 323.6 333.1 342.7 352.3 361.9 371.5 381.1 390.7 400.3 409.9 419.5 429 438.6 448.2 457.8 467.4 477 486.6" y="73.3">KQHAEKHFPL QSG------- ---STCKGVL LNFEDVGGKV</text>
<text class="sq" x="83.8 93.4 103 112.6 122.2 131.8 141.3 150.9 160.5 170.1 179.7 189.3 198.9 208.5 218.1 227.7 237.2 246.8 256.4 266 275.6 285.2 294.8 304.4 314 323.6 333.1 342.7 352.3 361.9 371.5 381.1 390.7 400.3 409.9 419.5 429 438.6 448.2 457.8 467.4 477 486.6" y="89.3">KQHAEKHFPL PAMTTAM--G MNPSPTKGVL INLEDRTGKV</text>
<text class="sq" x="83.8 93.4 103 112.6 122.2 131.8 141.3 150.9 160.5 170.1 179.7 189.3 198.9 208.5 218.1 227.7 237.2 246.8 256.4 266 275.6 285.2 294.8 304.4 314 323.6 333.1 342.7 352.3 361.9 371.5 381.1 390.7 400.3 409.9 419.5 429 438.6 448.2 457.8 467.4 477 486.6" y="105.3">KQHAEKHFPL PSPS------ --PAVTKGVL INFEDVNGKV</text>
<text class="sq" x="83.8 93.4 103 112.6 122.2 131.8 141.3 150.9 160.5 170.1 179.7 189.3 198.9 208.5 218.1 227.7 237.2 246.8 256.4 266 275.6 285.2 294.8 304.4 314 323.6 333.1 342.7 352.3 361.9 371.5 381.1 390.7 400.3 409.9 419.5 429 438.6 448.2 457.8 467.4 477 486.6" y="122.8">KQHAEKHFPL QSGSTAT--V SA*SACKGVL LNFEDVGGKV</text>
<text class="nr" x="515.4" y="41.3">271</text><text class="nr" x="515.4" y="57.3">265</text><text class="nr" x="515.4" y="73.3">259</text><text class="nr" x="515.4" y="89.3">251</text><text class="nr" x="515.4" y="105.3">238</text>
</g>

<g id="block8" transform="translate(0 889)">
<g class="bg" transform="translate(79 37) scale(9.59 16)">
<path class="cw" d="M0 0h1M7 0h1M20 0h1M0 1h1M7 1h1M20 1h1M0 2h1M7 2h1M20 2h1M0 3h1M7 3h1M20 3h1M0 4h1M7 4h1M20 4h1"/>
<path class="cb" d="M1 0h1M3 0h1M18 0h1M23 0h1M26 0h1M28 0h1M41 0h1M1 1h1M3 1h1M18 1h1M23 1h1M26 1h1M28 1h1M31 1h1M41 1h1M1 2h1M3 2h1M18 2h1M23 2h1M26 2h1M28 2h1M31 2h1M41 2h1M1 3h1M3 3h1M18 3h1M23 3h1M26 3h1M28 3h1M31 3h1M41 3h1M1 4h1M3 4h1M18 4h1M23 4h1M26 4h1M28 4h1M31 4h1M41 4h1"/>
<path class="cf" d="M2 0h1M4 0h1M6 0h1M14 0h1M24 0h1M39 0h1M2 1h1M4 1h1M6 1h1M14 1h1M24 1h1M39 1h1M2 2h1M4 2h1M6 2h1M14 2h1M24 2h1M39 2h1M2 3h1M4 3h1M6 3h1M14 3h1M24 3h1M39 3h1M2 4h1M4 4h1M6 4h1M14 4h1M24 4h1M39 4h1"/>
<path class="co" d="M5 0h1M9 0h1M11 0h1M13 0h1M17 0h1M22 0h1M38 0h1M42 0h1M5 1h1M9 1h1M11 1h1M13 1h1M17 1h1M22 1h1M38 1h1M42 1h1M5 2h1M9 2h1M11 2h1M13 2h1M17 2h1M22 2h1M38 2h1M42 2h1M5 3h1M9 3h1M11 3h1M13 3h1M17 3h1M22 3h1M42 3h1M5 4h1M9 4h1M11 4h1M13 4h1M17 4h1M22 4h1M38 4h1M42 4h1"/>
<path class="cc" d="M8 0h1M12 0h1M29 0h1M40 0h1M8 1h1M12 1h1M29 1h1M40 1h1M8 2h1M12 2h1M29 2h1M40 2h1M8 3h1M12 3h1M29 3h1M8 4h1M12 4h1M29 4h1"/>
<path class="cg" d="M15 0h2M25 0h1M30 0h1M36 0h2M15 1h2M25 1h1M30 1h1M36 1h2M15 2h2M25 2h1M30 2h1M36 2h2M15 3h2M25 3h1M30 3h1M36 3h2M15 4h2M25 4h1M30 4h1M36 4h2"/>
<path class="cr" d="M27 0h1M35 0h1M27 1h1M35 1h1M27 2h1M35 2h1M27 3h1M35 3h1M40 3h1M27 4h1M35 4h1M40 4h1"/>
<path class="cy" d="M31 0h1M38 3h1"/>
<path class="ca" d="M33 0h1M33 1h1M33 2h1M33 3h1M33 4h1"/>
<use href="#sep"/>
</g>
<text class="pl" x="275.6" y="15">300</text><text class="pl" x="486.6" y="15">320</text>
<rect class="ybar" x="79" y="18" width="412.4" height="9" rx="1.5"/>
<text class="nm" x="69" y="41.3">MdTEM1</text><text class="nm" x="69" y="57.3">MdTEM2</text><text class="nm" x="69" y="73.3">FvTEM</text><text class="nm" x="69" y="89.3">AtTEM1</text><text class="nm" x="69" y="105.3">AtTEM2</text><text class="nm" x="69" y="122.8">Consensus</text>
<text class="sq" x="83.8 93.4 103 112.6 122.2 131.8 141.3 150.9 160.5 170.1 179.7 189.3 198.9 208.5 218.1 227.7 237.2 246.8 256.4 266 275.6 285.2 294.8 304.4 314 323.6 333.1 342.7 352.3 361.9 371.5 381.1 390.7 400.3 409.9 419.5 429 438.6 448.2 457.8 467.4 477 486.6" y="41.3">WRFRYSYWNS SQSYVLTKGW SRFVKEKNLM AGDIVSFQRS</text>
<text class="sq" x="83.8 93.4 103 112.6 122.2 131.8 141.3 150.9 160.5 170.1 179.7 189.3 198.9 208.5 218.1 227.7 237.2 246.8 256.4 266 275.6 285.2 294.8 304.4 314 323.6 333.1 342.7 352.3 361.9 371.5 381.1 390.7 400.3 409.9 419.5 429 438.6 448.2 457.8 467.4 477 486.6" y="57.3">WRFRYSYWNS SQSYVLTKGW SRFVKEKNLK AGDIVSFQRS</text>
<text class="sq" x="83.8 93.4 103 112.6 122.2 131.8 141.3 150.9 160.5 170.1 179.7 189.3 198.9 208.5 218.1 227.7 237.2 246.8 256.4 266 275.6 285.2 294.8 304.4 314 323.6 333.1 342.7 352.3 361.9 371.5 381.1 390.7 400.3 409.9 419.5 429 438.6 448.2 457.8 467.4 477 486.6" y="73.3">WRFRYSYWNS SQSYVLTKGW SRFVKEKNLK AGDIVSFQRS</text>
<text class="sq" x="83.8 93.4 103 112.6 122.2 131.8 141.3 150.9 160.5 170.1 179.7 189.3 198.9 208.5 218.1 227.7 237.2 246.8 256.4 266 275.6 285.2 294.8 304.4 314 323.6 333.1 342.7 352.3 361.9 371.5 381.1 390.7 400.3 409.9 419.5 429 438.6 448.2 457.8 467.4 477 486.6" y="89.3">WRFRYSYWNS SQSYVLTKGW SRFVKEKNLR AGDVVCFERS</text>
<text class="sq" x="83.8 93.4 103 112.6 122.2 131.8 141.3 150.9 160.5 170.1 179.7 189.3 198.9 208.5 218.1 227.7 237.2 246.8 256.4 266 275.6 285.2 294.8 304.4 314 323.6 333.1 342.7 352.3 361.9 371.5 381.1 390.7 400.3 409.9 419.5 429 438.6 448.2 457.8 467.4 477 486.6" y="105.3">WRFRYSYWNS SQSYVLTKGW SRFVKEKNLR AGDVVTFERS</text>
<text class="sq" x="83.8 93.4 103 112.6 122.2 131.8 141.3 150.9 160.5 170.1 179.7 189.3 198.9 208.5 218.1 227.7 237.2 246.8 256.4 266 275.6 285.2 294.8 304.4 314 323.6 333.1 342.7 352.3 361.9 371.5 381.1 390.7 400.3 409.9 419.5 429 438.6 448.2 457.8 467.4 477 486.6" y="122.8">WRFRYSYWNS SQSYVLTKGW SRFVKEKNL* AGDIVSFQRS</text>
<text class="nr" x="515.4" y="41.3">311</text><text class="nr" x="515.4" y="57.3">305</text><text class="nr" x="515.4" y="73.3">299</text><text class="nr" x="515.4" y="89.3">291</text><text class="nr" x="515.4" y="105.3">278</text>
</g>

<g id="block9" transform="translate(0 1016)">
<g class="bg" transform="translate(79 37) scale(9.59 16)">
<path class="co" d="M0 0h1M16 0h1M20 0h1M26 0h2M0 1h1M13 1h1M16 1h1M23 1h1M26 1h1M0 2h1M13 2h1M15 2h1M23 2h2M0 3h1M15 3h1M27 3h1M31 3h1M0 4h1M15 4h1"/>
<path class="cp" d="M2 0h1M28 0h1M36 0h1M38 0h1M2 1h1M28 1h1M36 1h1M2 2h1M26 2h1M28 2h1M36 2h1M2 3h1M28 3h1M24 4h1M28 4h1"/>
<path class="cr" d="M3 0h1M9 0h1M3 1h1M9 1h1M3 2h1M9 2h1M3 3h1M3 4h1M9 4h1M26 4h1"/>
<path class="cb" d="M4 0h1M12 0h1M14 0h1M41 0h1M4 1h1M12 1h1M14 1h1M41 1h1M4 2h1M12 2h1M14 2h1M41 2h1M4 3h1M12 3h1M14 3h1M41 3h1M4 4h1M12 4h1M14 4h1M25 4h1M41 4h1"/>
<path class="cc" d="M5 0h1M18 0h2M22 0h3M30 0h1M19 1h1M22 1h1M24 1h1M27 1h1M30 1h1M33 1h1M38 1h1M5 2h1M27 2h1M30 2h1M38 2h1M5 3h1M30 3h1M5 4h1M27 4h1M30 4h1"/>
<path class="ch" d="M5 1h1M9 3h1"/>
<path class="cg" d="M6 0h1M8 0h1M17 0h1M29 0h1M31 0h1M37 0h1M40 0h1M42 0h1M6 1h1M8 1h1M17 1h1M29 1h1M37 1h1M40 1h1M42 1h1M6 2h1M8 2h1M29 2h1M37 2h1M40 2h1M42 2h1M6 3h1M8 3h1M13 3h1M29 3h1M33 3h1M40 3h1M42 3h1M2 4h1M6 4h1M8 4h1M13 4h1M29 4h1M31 4h1M33 4h1M40 4h1M42 4h1"/>
<path class="cf" d="M7 0h1M7 1h1M18 1h1M7 2h1M7 3h1M7 4h1"/>
<path class="cw" d="M11 0h1M11 1h1M11 2h1M11 3h1M11 4h1"/>
<path class="ca" d="M13 0h1M35 1h1M31 2h1"/>
<path class="cy" d="M15 0h1M39 0h1M15 1h1M39 1h1M39 2h1"/>
<use href="#sep"/>
</g>
<text class="pl" x="275.6" y="15">340</text><text class="pl" x="486.6" y="15">360</text>
<path class="tk" d="M275.6 18.5v8.5M486.6 18.5v8.5"/>
<rect class="ybar" x="79" y="18" width="115.1" height="9" rx="1.5"/>
<text class="nm" x="69" y="41.3">MdTEM1</text><text class="nm" x="69" y="57.3">MdTEM2</text><text class="nm" x="69" y="73.3">FvTEM</text><text class="nm" x="69" y="89.3">AtTEM1</text><text class="nm" x="69" y="105.3">AtTEM2</text><text class="nm" x="69" y="122.8">Consensus</text>
<text class="sq" x="83.8 93.4 103 112.6 122.2 131.8 141.3 150.9 160.5 170.1 179.7 189.3 198.9 208.5 218.1 227.7 237.2 246.8 256.4 266 275.6 285.2 294.8 304.4 314 323.6 333.1 342.7 352.3 361.9 371.5 381.1 390.7 400.3 409.9 419.5 429 438.6 448.2 457.8 467.4 477 486.6" y="41.3">TGPDKQLYID WKARMSVNNT NNNGSSPVQV G--PVPMVRL</text>
<text class="sq" x="83.8 93.4 103 112.6 122.2 131.8 141.3 150.9 160.5 170.1 179.7 189.3 198.9 208.5 218.1 227.7 237.2 246.8 256.4 266 275.6 285.2 294.8 304.4 314 323.6 333.1 342.7 352.3 361.9 371.5 381.1 390.7 400.3 409.9 419.5 429 438.6 448.2 457.8 467.4 477 486.6" y="57.3">TGPDKHLYID WKTRMSVYN- NSNGSNPVQG QXAPVQMVRL</text>
<text class="sq" x="83.8 93.4 103 112.6 122.2 131.8 141.3 150.9 160.5 170.1 179.7 189.3 198.9 208.5 218.1 227.7 237.2 246.8 256.4 266 275.6 285.2 294.8 304.4 314 323.6 333.1 342.7 352.3 361.9 371.5 381.1 390.7 400.3 409.9 419.5 429 438.6 448.2 457.8 467.4 477 486.6" y="73.3">TGPDRQLYID WKTRT----- -STGPNPVQA G--PVQMVRL</text>
<text class="sq" x="83.8 93.4 103 112.6 122.2 131.8 141.3 150.9 160.5 170.1 179.7 189.3 198.9 208.5 218.1 227.7 237.2 246.8 256.4 266 275.6 285.2 294.8 304.4 314 323.6 333.1 342.7 352.3 361.9 371.5 381.1 390.7 400.3 409.9 419.5 429 438.6 448.2 457.8 467.4 477 486.6" y="89.3">TGPDRQLYIH WKVRS----- -----SPVQT V------VRL</text>
<text class="sq" x="83.8 93.4 103 112.6 122.2 131.8 141.3 150.9 160.5 170.1 179.7 189.3 198.9 208.5 218.1 227.7 237.2 246.8 256.4 266 275.6 285.2 294.8 304.4 314 323.6 333.1 342.7 352.3 361.9 371.5 381.1 390.7 400.3 409.9 419.5 429 438.6 448.2 457.8 467.4 477 486.6" y="105.3">TGLERQLYID WKVRSG---- --PRENPVQV V------VRL</text>
<text class="sq" x="83.8 93.4 103 112.6 122.2 131.8 141.3 150.9 160.5 170.1 179.7 189.3 198.9 208.5 218.1 227.7 237.2 246.8 256.4 266 275.6 285.2 294.8 304.4 314 323.6 333.1 342.7 352.3 361.9 371.5 381.1 390.7 400.3 409.9 419.5 429 438.6 448.2 457.8 467.4 477 486.6" y="122.8">TGPDRQLYID WK*R*S---- -SNGSNPVQV *--PVQMVRL</text>
<text class="nr" x="515.4" y="41.3">349</text><text class="nr" x="515.4" y="57.3">344</text><text class="nr" x="515.4" y="73.3">331</text><text class="nr" x="515.4" y="89.3">315</text><text class="nr" x="515.4" y="105.3">306</text>
</g>

<g id="block10" transform="translate(0 1143)">
<g class="bg" transform="translate(79 37) scale(9.59 16)">
<path class="cf" d="M0 0h1M5 0h1M0 1h1M5 1h1M0 2h1M5 2h1M42 2h1M0 3h1M5 3h1M0 4h1M5 4h1"/>
<path class="cg" d="M2 0h1M4 0h1M7 0h1M26 0h1M35 0h1M2 1h1M4 1h1M7 1h1M17 1h1M26 1h1M35 1h1M2 2h1M4 2h1M7 2h1M22 2h1M26 2h1M34 2h2M2 3h1M4 3h1M7 3h1M20 3h1M23 3h1M26 3h1M2 4h1M4 4h1M7 4h1M11 4h1M20 4h1M22 4h1M24 4h1M41 4h1"/>
<path class="cc" d="M3 0h1M31 0h1M33 0h2M3 1h1M31 1h1M33 1h2M3 2h1M31 2h1M3 3h1M6 3h1M9 3h1M18 3h1M6 4h1M18 4h1"/>
<path class="cb" d="M6 0h1M6 1h1M6 2h1M12 3h1M12 4h1M37 0h2M40 0h1M37 1h2M40 1h1M37 2h2M40 2h1M36 3h3M40 3h1M36 4h2M39 4h1"/>
<path class="cp" d="M8 0h1M8 1h1M8 2h1M14 0h1M16 1h1M25 2h1M13 3h1M13 4h1"/>
<path class="co" d="M8 3h1M8 4h2M11 0h2M16 0h1M11 1h2M11 2h1M19 2h2M39 3h1M38 4h1"/>
<path class="cr" d="M3 4h1M18 0h1M18 1h1M11 3h1M19 3h1M19 4h1M23 2h1M24 3h1M41 0h1M41 1h1M41 2h1M41 3h2M40 4h1M42 4h1"/>
<path class="ca" d="M17 0h1M19 0h2M14 1h1M19 1h2M16 2h2M24 2h1M22 0h4M22 1h4M22 3h1M23 4h1"/>
<path class="cy" d="M30 0h1M30 1h1M30 2h1M25 3h1M25 4h1M39 0h1M42 0h1M39 1h1M42 1h1M39 2h1"/>
<use href="#sep"/>
</g>
<text class="pl" x="275.6" y="15">380</text><text class="pl" x="486.6" y="15">400</text>
<path class="tk" d="M275.6 18.5v8.5M486.6 18.5v8.5"/>
<text class="nm" x="69" y="41.3">MdTEM1</text><text class="nm" x="69" y="57.3">MdTEM2</text><text class="nm" x="69" y="73.3">FvTEM</text><text class="nm" x="69" y="89.3">AtTEM1</text><text class="nm" x="69" y="105.3">AtTEM2</text><text class="nm" x="69" y="122.8">Consensus</text>
<text class="sq" x="83.8 93.4 103 112.6 122.2 131.8 141.3 150.9 160.5 170.1 179.7 189.3 198.9 208.5 218.1 227.7 237.2 246.8 256.4 266 275.6 285.2 294.8 304.4 314 323.6 333.1 342.7 352.3 361.9 371.5 381.1 390.7 400.3 409.9 419.5 429 438.6 448.2 457.8 467.4 477 486.6" y="41.3">FGVNIFKIPG SSGPGSADAA AAAAIGGGCN NNIGKRMREM</text>
<text class="sq" x="83.8 93.4 103 112.6 122.2 131.8 141.3 150.9 160.5 170.1 179.7 189.3 198.9 208.5 218.1 227.7 237.2 246.8 256.4 266 275.6 285.2 294.8 304.4 314 323.6 333.1 342.7 352.3 361.9 371.5 381.1 390.7 400.3 409.9 419.5 429 438.6 448.2 457.8 467.4 477 486.6" y="57.3">FGVNIFKIPG SSGAGPVDAA AAAAIGGGCN NNIGKRMREM</text>
<text class="sq" x="83.8 93.4 103 112.6 122.2 131.8 141.3 150.9 160.5 170.1 179.7 189.3 198.9 208.5 218.1 227.7 237.2 246.8 256.4 266 275.6 285.2 294.8 304.4 314 323.6 333.1 342.7 352.3 361.9 371.5 381.1 390.7 400.3 409.9 419.5 429 438.6 448.2 457.8 467.4 477 486.6" y="73.3">FGVNIFKVPG SGG--AAGTT VEAPIG--CN -VVGKRMREF</text>
<text class="sq" x="83.8 93.4 103 112.6 122.2 131.8 141.3 150.9 160.5 170.1 179.7 189.3 198.9 208.5 218.1 227.7 237.2 246.8 256.4 266 275.6 285.2 294.8 304.4 314 323.6 333.1 342.7 352.3 361.9 371.5 381.1 390.7 400.3 409.9 419.5 429 438.6 448.2 457.8 467.4 477 486.6" y="89.3">FGVNIFNVSN EKP----NDV AVECVG---- ---KKRSRED</text>
<text class="sq" x="83.8 93.4 103 112.6 122.2 131.8 141.3 150.9 160.5 170.1 179.7 189.3 198.9 208.5 218.1 227.7 237.2 246.8 256.4 266 275.6 285.2 294.8 304.4 314 323.6 333.1 342.7 352.3 361.9 371.5 381.1 390.7 400.3 409.9 419.5 429 438.6 448.2 457.8 467.4 477 486.6" y="105.3">FGVDIFNVTT VKP----NDV VAVCGG---- ---KRSRDVD</text>
<text class="sq" x="83.8 93.4 103 112.6 122.2 131.8 141.3 150.9 160.5 170.1 179.7 189.3 198.9 208.5 218.1 227.7 237.2 246.8 256.4 266 275.6 285.2 294.8 304.4 314 323.6 333.1 342.7 352.3 361.9 371.5 381.1 390.7 400.3 409.9 419.5 429 438.6 448.2 457.8 467.4 477 486.6" y="122.8">FGVNIFKVPG S*G---A*** AAA*IG--CN -NIGKRMRE*</text>
<text class="nr" x="515.4" y="41.3">389</text><text class="nr" x="515.4" y="57.3">384</text><text class="nr" x="515.4" y="73.3">366</text><text class="nr" x="515.4" y="89.3">344</text><text class="nr" x="515.4" y="105.3">335</text>
</g>

<g id="block11" transform="translate(0 1270)">
<g class="bg" transform="translate(79 37) scale(9.59 16)">
<path class="cr" d="M0 0h1M3 0h1M5 0h1M0 1h1M5 1h1M0 2h1M3 2h1M5 2h1M0 3h1M0 4h1"/>
<path class="cg" d="M1 0h2M4 0h1M13 0h2M17 0h1M2 1h1M4 1h1M13 1h2M17 1h1M1 2h2M4 2h1M13 2h2M17 2h1M1 3h1M4 3h1M13 3h2M16 3h2M4 4h1M13 4h2M17 4h1"/>
<path class="cf" d="M6 0h1M1 1h1M6 1h1M6 2h1M2 3h1M2 4h1"/>
<path class="cb" d="M8 0h2M12 0h1M3 1h1M8 1h2M12 1h1M8 2h2M12 2h1M8 3h2M5 4h1M8 4h2"/>
<path class="co" d="M7 1h1M7 2h1M3 3h1M7 3h1M7 4h1"/>
<path class="cy" d="M6 3h1M1 4h1M6 4h1"/>
<path class="ca" d="M16 0h1M16 1h1M16 2h1M12 3h1M3 4h1M12 4h1M16 4h1"/>
<path class="cp" d="M11 0h1M11 1h1"/>
<path class="cc" d="M11 2h1M11 3h1M15 3h1M11 4h1M15 4h1"/>
<use href="#sep"/>
</g>
<text class="nm" x="69" y="41.3">MdTEM1</text><text class="nm" x="69" y="57.3">MdTEM2</text><text class="nm" x="69" y="73.3">FvTEM</text><text class="nm" x="69" y="89.3">AtTEM1</text><text class="nm" x="69" y="105.3">AtTEM2</text><text class="nm" x="69" y="122.8">Consensus</text>
<text class="sq" x="83.8 93.4 103 112.6 122.2 131.8 141.3 150.9 160.5 170.1 179.7 189.3 198.9 208.5 218.1 227.7 237.2 246.8" y="41.3">ELLELEFGKK PRIIGAL</text>
<text class="sq" x="83.8 93.4 103 112.6 122.2 131.8 141.3 150.9 160.5 170.1 179.7 189.3 198.9 208.5 218.1 227.7 237.2 246.8" y="57.3">EFLKLEFSKK PRIIGAL</text>
<text class="sq" x="83.8 93.4 103 112.6 122.2 131.8 141.3 150.9 160.5 170.1 179.7 189.3 198.9 208.5 218.1 227.7 237.2 246.8" y="73.3">ELLELEFSKK QRIIGAL</text>
<text class="sq" x="83.8 93.4 103 112.6 122.2 131.8 141.3 150.9 160.5 170.1 179.7 189.3 198.9 208.5 218.1 227.7 237.2 246.8" y="89.3">DLFSLGCSKK QAIINIL</text>
<text class="sq" x="83.8 93.4 103 112.6 122.2 131.8 141.3 150.9 160.5 170.1 179.7 189.3 198.9 208.5 218.1 227.7 237.2 246.8" y="105.3">DMFALRCSKK QAIINAL</text>
<text class="sq" x="83.8 93.4 103 112.6 122.2 131.8 141.3 150.9 160.5 170.1 179.7 189.3 198.9 208.5 218.1 227.7 237.2 246.8" y="122.8">ELLELEFSKK QRIIGAL</text>
<text class="nr" x="275.6" y="41.3">406</text><text class="nr" x="275.6" y="57.3">401</text><text class="nr" x="275.6" y="73.3">383</text><text class="nr" x="275.6" y="89.3">361</text><text class="nr" x="275.6" y="105.3">352</text>
</g>
</svg>
